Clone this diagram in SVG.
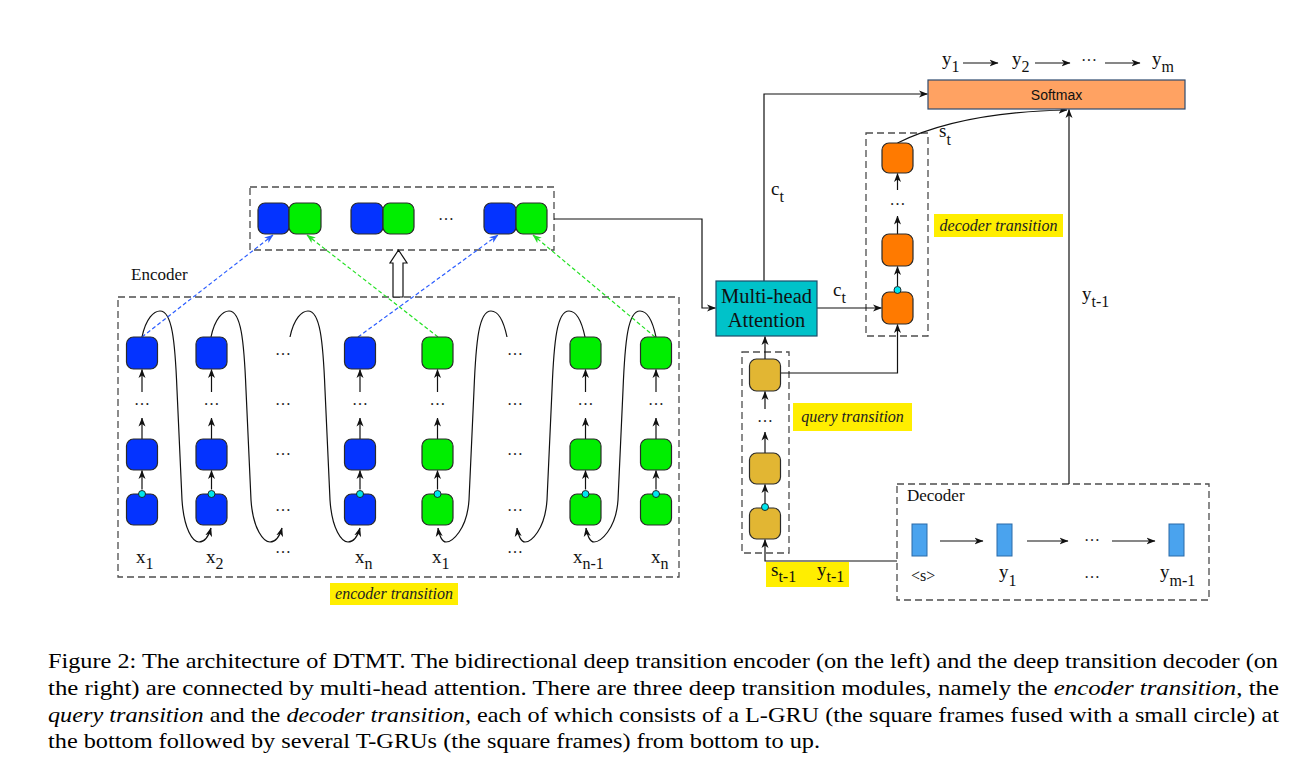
<svg xmlns="http://www.w3.org/2000/svg" width="1304" height="781" viewBox="0 0 1304 781">
<defs>
<style>
.dash{fill:none;stroke:#4d4d4d;stroke-width:1.3;stroke-dasharray:7,4}
.cell{stroke:#2a2a2a;stroke-width:1.2}
.b{fill:#0433ff}
.g{fill:#00ee00}
.o{fill:#ff7a00}
.q{fill:#e2b633}
.cd{fill:#00e6ee;stroke:#1a1a1a;stroke-width:0.9}
.ln{fill:none;stroke:#111;stroke-width:1.2}
.arr{marker-end:url(#ah)}
.bd{fill:none;stroke:#2a5cff;stroke-width:1.2;stroke-dasharray:4,2.5;marker-end:url(#ahb)}
.gd{fill:none;stroke:#22e022;stroke-width:1.2;stroke-dasharray:4,2.5;marker-end:url(#ahg)}
.lbl{font-family:"Liberation Serif","Times New Roman",serif;font-size:19px;fill:#111}
.sub{font-size:16px}
.dots{font-family:"Liberation Serif","Times New Roman",serif;font-size:16px;fill:#222;text-anchor:middle}
.yl{fill:#ffee00}
.it{font-family:"Liberation Serif","Times New Roman",serif;font-style:italic;font-size:16px;fill:#222;text-anchor:middle}
.cap{font-family:"Liberation Serif","Times New Roman",serif;font-size:21px;fill:#000}
.tt{font-family:"Liberation Serif","Times New Roman",serif;font-size:17px;fill:#111}
</style>
<marker id="ah" markerUnits="userSpaceOnUse" markerWidth="9" markerHeight="8" viewBox="0 0 9 8" refX="8.5" refY="4" orient="auto"><path d="M0,0.5 L9,4 L0,7.5 L2.5,4 z" fill="#111"/></marker>
<marker id="ahb" markerUnits="userSpaceOnUse" markerWidth="9" markerHeight="8" viewBox="0 0 9 8" refX="8.5" refY="4" orient="auto"><path d="M0,0.5 L9,4 L0,7.5 L2.5,4 z" fill="#2a5cff"/></marker>
<marker id="ahg" markerUnits="userSpaceOnUse" markerWidth="9" markerHeight="8" viewBox="0 0 9 8" refX="8.5" refY="4" orient="auto"><path d="M0,0.5 L9,4 L0,7.5 L2.5,4 z" fill="#22e022"/></marker>
</defs>
<rect width="1304" height="781" fill="#fff"/>

<g id="frames">
<rect class="dash" x="250" y="187" width="304" height="63"/>
<rect class="dash" x="118" y="297" width="561" height="280"/>
<rect class="dash" x="866" y="133" width="62" height="203"/>
<rect class="dash" x="742" y="352" width="47" height="201"/>
<rect class="dash" x="897" y="484" width="312" height="116"/>
</g>

<g id="connectors">
<path class="ln arr" d="M142,337 C146,318 154,311 160,311 C172,311 175,340 177,390 L182,500 C184,530 193,542 199,542 C205,542 209,535 211,528"/>
<path class="ln arr" d="M211,337 C215,318 223,311 229,311 C241,311 244,340 246,390 L251,500 C253,530 264,542 270,542 C276,542 280,535 282,528"/>
<path class="ln arr" d="M290,337 C294,318 302,311 308,311 C320,311 323,340 325,390 L330,500 C332,530 342,542 348,542 C354,542 358,535 360,528"/>
<path class="ln arr" d="M507,337 C503,318 497,311 491,311 C479,311 476,340 474,390 L469,500 C467,530 452,542 446,542 C442,542 439,535 438,528"/>
<path class="ln arr" d="M585,337 C581,318 575,311 569,311 C557,311 554,340 552,390 L547,500 C545,530 531,542 525,542 C521,542 518,535 517,528"/>
<path class="ln arr" d="M656,337 C652,318 646,311 640,311 C628,311 625,340 623,390 L618,500 C616,530 600,542 594,542 C590,542 587,535 586,528"/>
<line class="bd" x1="142" y1="337" x2="273" y2="235"/>
<line class="gd" x1="438" y1="337" x2="307" y2="235"/>
<line class="bd" x1="358" y1="337" x2="498" y2="235"/>
<line class="gd" x1="655" y1="337" x2="533" y2="235"/>
<polygon points="393,297 393,263 390,263 398.5,250 407,263 403,263 403,297" fill="#fff" stroke="#111" stroke-width="1.2"/>
<path class="ln arr" d="M554,219 H702 V308 H715.5"/>
<line class="ln arr" x1="142" y1="489.5" x2="142" y2="470.5"/>
<line class="ln arr" x1="142" y1="439" x2="142" y2="418"/>
<line class="ln arr" x1="142" y1="392" x2="142" y2="369.5"/>
<line class="ln arr" x1="211.5" y1="489.5" x2="211.5" y2="470.5"/>
<line class="ln arr" x1="211.5" y1="439" x2="211.5" y2="418"/>
<line class="ln arr" x1="211.5" y1="392" x2="211.5" y2="369.5"/>
<line class="ln arr" x1="360" y1="489.5" x2="360" y2="470.5"/>
<line class="ln arr" x1="360" y1="439" x2="360" y2="418"/>
<line class="ln arr" x1="360" y1="392" x2="360" y2="369.5"/>
<line class="ln arr" x1="437.5" y1="489.5" x2="437.5" y2="470.5"/>
<line class="ln arr" x1="437.5" y1="439" x2="437.5" y2="418"/>
<line class="ln arr" x1="437.5" y1="392" x2="437.5" y2="369.5"/>
<line class="ln arr" x1="585.5" y1="489.5" x2="585.5" y2="470.5"/>
<line class="ln arr" x1="585.5" y1="439" x2="585.5" y2="418"/>
<line class="ln arr" x1="585.5" y1="392" x2="585.5" y2="369.5"/>
<line class="ln arr" x1="656" y1="489.5" x2="656" y2="470.5"/>
<line class="ln arr" x1="656" y1="439" x2="656" y2="418"/>
<line class="ln arr" x1="656" y1="392" x2="656" y2="369.5"/>
<line class="ln arr" x1="765" y1="503.5" x2="765" y2="484.5"/>
<line class="ln arr" x1="765" y1="453" x2="765" y2="432"/>
<line class="ln arr" x1="765" y1="409" x2="765" y2="391.5"/>
<line class="ln arr" x1="765" y1="359" x2="765" y2="336.5"/>
<line class="ln arr" x1="897.5" y1="286.5" x2="897.5" y2="266.5"/>
<line class="ln arr" x1="897.5" y1="234" x2="897.5" y2="216"/>
<line class="ln arr" x1="897.5" y1="190" x2="897.5" y2="173.5"/>
<line class="ln arr" x1="817" y1="308" x2="881.5" y2="308"/>
<path class="ln arr" d="M764,281 V94 H927.5"/>
<path class="ln arr" d="M781,373 H897.5 V324.5"/>
<path class="ln arr" d="M897,561 H765 V539.5"/>
<path class="ln arr" d="M897.5,143 Q960,112 1067,110"/>
<line class="ln arr" x1="1069" y1="484" x2="1069" y2="109.5"/>
<line class="ln arr" x1="963" y1="63" x2="998" y2="63"/>
<line class="ln arr" x1="1035" y1="63" x2="1070" y2="63"/>
<line class="ln arr" x1="1105" y1="63" x2="1140" y2="63"/>
<line class="ln arr" x1="940" y1="541" x2="983" y2="541"/>
<line class="ln arr" x1="1027" y1="541" x2="1068" y2="541"/>
<line class="ln arr" x1="1112" y1="541" x2="1155" y2="541"/>
</g>

<g id="annot1"><rect class="cell b" x="258" y="203" width="31" height="31" rx="7"/><rect class="cell g" x="289" y="203" width="32" height="31" rx="7"/></g>
<g id="annot2"><rect class="cell b" x="351" y="203" width="32" height="31" rx="7"/><rect class="cell g" x="383" y="203" width="31" height="31" rx="7"/></g>
<g id="annot3"><rect class="cell b" x="484" y="203" width="32" height="31" rx="7"/><rect class="cell g" x="516" y="203" width="31" height="31" rx="7"/></g>
<text class="dots" x="446" y="220">…</text>

<g id="enc-col1"><rect class="cell b" x="126.5" y="337" width="31" height="32" rx="7"/><rect class="cell b" x="126.5" y="439" width="31" height="31" rx="7"/><rect class="cell b" x="126.5" y="494" width="31" height="31" rx="7"/><circle class="cd" cx="142" cy="494" r="3.5"/><text class="dots" x="142" y="405">…</text></g>
<g id="enc-col2"><rect class="cell b" x="196" y="337" width="31" height="32" rx="7"/><rect class="cell b" x="196" y="439" width="31" height="31" rx="7"/><rect class="cell b" x="196" y="494" width="31" height="31" rx="7"/><circle class="cd" cx="211.5" cy="494" r="3.5"/><text class="dots" x="211.5" y="405">…</text></g>
<g id="enc-col3"><text class="dots" x="283" y="355">…</text><text class="dots" x="283" y="405">…</text><text class="dots" x="283" y="455">…</text><text class="dots" x="283" y="511">…</text></g>
<g id="enc-col4"><rect class="cell b" x="344.5" y="337" width="31" height="32" rx="7"/><rect class="cell b" x="344.5" y="439" width="31" height="31" rx="7"/><rect class="cell b" x="344.5" y="494" width="31" height="31" rx="7"/><circle class="cd" cx="360" cy="494" r="3.5"/><text class="dots" x="360" y="405">…</text></g>
<g id="enc-col5"><rect class="cell g" x="422" y="337" width="31" height="32" rx="7"/><rect class="cell g" x="422" y="439" width="31" height="31" rx="7"/><rect class="cell g" x="422" y="494" width="31" height="31" rx="7"/><circle class="cd" cx="437.5" cy="494" r="3.5"/><text class="dots" x="437.5" y="405">…</text></g>
<g id="enc-col6"><text class="dots" x="515" y="355">…</text><text class="dots" x="515" y="405">…</text><text class="dots" x="515" y="455">…</text><text class="dots" x="515" y="511">…</text></g>
<g id="enc-col7"><rect class="cell g" x="570" y="337" width="31" height="32" rx="7"/><rect class="cell g" x="570" y="439" width="31" height="31" rx="7"/><rect class="cell g" x="570" y="494" width="31" height="31" rx="7"/><circle class="cd" cx="585.5" cy="494" r="3.5"/><text class="dots" x="585.5" y="405">…</text></g>
<g id="enc-col8"><rect class="cell g" x="640.5" y="337" width="31" height="32" rx="7"/><rect class="cell g" x="640.5" y="439" width="31" height="31" rx="7"/><rect class="cell g" x="640.5" y="494" width="31" height="31" rx="7"/><circle class="cd" cx="656" cy="494" r="3.5"/><text class="dots" x="656" y="405">…</text></g>

<g id="enc-labels">
<text class="tt" x="131" y="280">Encoder</text>
<text class="lbl" x="136" y="563">x<tspan class="sub" dy="6">1</tspan></text>
<text class="lbl" x="206" y="563">x<tspan class="sub" dy="6">2</tspan></text>
<text class="dots" x="283" y="553">…</text>
<text class="lbl" x="355" y="563">x<tspan class="sub" dy="6">n</tspan></text>
<text class="lbl" x="432" y="563">x<tspan class="sub" dy="6">1</tspan></text>
<text class="dots" x="515" y="553">…</text>
<text class="lbl" x="573" y="563">x<tspan class="sub" dy="6">n-1</tspan></text>
<text class="lbl" x="651" y="563">x<tspan class="sub" dy="6">n</tspan></text>
</g>
<g id="enc-trans-label"><rect class="yl" x="330" y="583" width="128" height="22"/><text class="it" x="394" y="599">encoder transition</text></g>

<g id="attention">
<rect x="716" y="281" width="101" height="55" fill="#00c2c9" stroke="#1d4d6a" stroke-width="1.2"/>
<text class="lbl" x="766.5" y="303" text-anchor="middle" style="font-size:20.5px">Multi-head</text>
<text class="lbl" x="766.5" y="327" text-anchor="middle" style="font-size:20.5px">Attention</text>
</g>
<text class="lbl" x="771" y="195">c<tspan class="sub" dy="7">t</tspan></text>
<text class="lbl" x="833" y="296">c<tspan class="sub" dy="7">t</tspan></text>

<g id="query">
<rect class="cell q" x="749.5" y="359" width="31" height="32" rx="7"/>
<rect class="cell q" x="749.5" y="453" width="31" height="31" rx="7"/>
<rect class="cell q" x="749.5" y="508" width="31" height="31" rx="7"/>
<circle class="cd" cx="765" cy="507" r="3.5"/>
<text class="dots" x="765" y="422">…</text>
</g>
<g id="query-label"><rect class="yl" x="793" y="403" width="119" height="28"/><text class="it" x="852.5" y="422">query transition</text></g>
<g id="st1-label"><rect class="yl" x="766" y="562" width="83" height="25"/>
<text class="lbl" x="771" y="576">s<tspan class="sub" dy="6">t-1</tspan></text>
<text class="lbl" x="817" y="576">y<tspan class="sub" dy="6">t-1</tspan></text></g>

<g id="dec-trans">
<rect class="cell o" x="882" y="143" width="31" height="30" rx="7"/>
<rect class="cell o" x="882" y="234" width="31" height="32" rx="7"/>
<rect class="cell o" x="882" y="292" width="31" height="32" rx="7"/>
<circle class="cd" cx="897.5" cy="290" r="3.5"/>
<text class="dots" x="897.5" y="205">…</text>
</g>
<g id="dec-label"><rect class="yl" x="934" y="214" width="129" height="23"/><text class="it" x="998.5" y="231">decoder transition</text></g>
<text class="lbl" x="939" y="137">s<tspan class="sub" dy="8">t</tspan></text>
<text class="lbl" x="1082" y="300">y<tspan class="sub" dy="7">t-1</tspan></text>

<g id="softmax">
<rect x="928" y="80" width="257" height="29" fill="#ffa262" stroke="#2d4a6e" stroke-width="1.2"/>
<text x="1056.5" y="100" text-anchor="middle" font-family="Liberation Sans, Arial, sans-serif" font-size="14" fill="#111">Softmax</text>
</g>
<g id="outputs">
<text class="lbl" x="942" y="65">y<tspan class="sub" dy="7">1</tspan></text>
<text class="lbl" x="1012" y="65">y<tspan class="sub" dy="7">2</tspan></text>
<text class="dots" x="1089" y="66">···</text>
<text class="lbl" x="1152" y="65">y<tspan class="sub" dy="7">m</tspan></text>
</g>

<g id="decoder">
<text class="tt" x="907" y="501">Decoder</text>
<rect x="912" y="524" width="15" height="32" fill="#4aa3ee" stroke="#2a6aa8" stroke-width="1"/>
<rect x="997" y="524" width="15" height="32" fill="#4aa3ee" stroke="#2a6aa8" stroke-width="1"/>
<rect x="1169" y="524" width="15" height="32" fill="#4aa3ee" stroke="#2a6aa8" stroke-width="1"/>
<text class="dots" x="1092" y="541">…</text>
<text class="tt" x="911" y="581" style="font-size:16px">&lt;s&gt;</text>
<text class="lbl" x="999" y="578">y<tspan class="sub" dy="8">1</tspan></text>
<text class="dots" x="1092" y="578">…</text>
<text class="lbl" x="1160" y="578">y<tspan class="sub" dy="8">m-1</tspan></text>
</g>

<g id="caption">
<text class="cap" x="48" y="668" textLength="1230" lengthAdjust="spacingAndGlyphs">Figure 2: The architecture of DTMT. The bidirectional deep transition encoder (on the left) and the deep transition decoder (on</text>
<text class="cap" x="48" y="695" textLength="1231" lengthAdjust="spacingAndGlyphs">the right) are connected by multi-head attention. There are three deep transition modules, namely the <tspan font-style="italic">encoder transition</tspan>, the</text>
<text class="cap" x="48" y="722" textLength="1231" lengthAdjust="spacingAndGlyphs"><tspan font-style="italic">query transition</tspan> and the <tspan font-style="italic">decoder transition</tspan>, each of which consists of a L-GRU (the square frames fused with a small circle) at</text>
<text class="cap" x="48" y="748" textLength="772" lengthAdjust="spacingAndGlyphs">the bottom followed by several T-GRUs (the square frames) from bottom to up.</text>
</g>
</svg>
